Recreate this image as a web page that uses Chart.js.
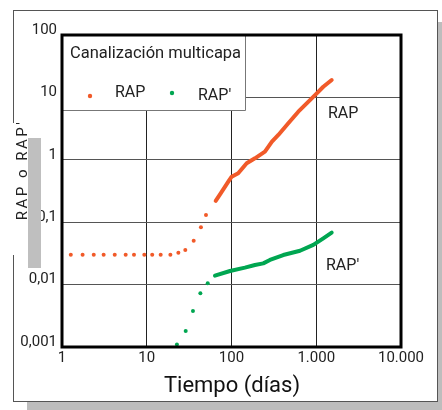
<!DOCTYPE html>
<html>
<head>
<meta charset="utf-8">
<script src="https://cdn.jsdelivr.net/npm/chart.js@4.4.1/dist/chart.umd.min.js"></script>
<style>
	html, body { margin: 0; padding: 0; background: #fff; }
	#wrap { position: relative; width: 442px; height: 410px; }
</style>
</head>
<body>
<div id="wrap"><canvas id="chartRap" width="442" height="410"></canvas></div>
<script>
// ejes
const xTickValues = [1, 10, 100, 1000, 10000];
const xTickLabels = ["1", "10", "100", "1.000", "10.000"];
const yTickValues = [0.001, 0.01, 0.1, 1, 10, 100];
const yTickLabels = ["0,001", "0,01", "0,1", "1", "10", "100"];

// RAP - puntos sueltos (tiempo, valor)
const rapDotsT = [1.27, 1.75, 2.37, 3.1, 4.19, 5.64, 7.07, 9.36, 11.6, 14.6, 19.0, 23.6, 28.5, 35.8, 43.6, 50.0];
const rapDotsV = [0.03, 0.03, 0.03, 0.03, 0.03, 0.03, 0.03, 0.03, 0.03, 0.03, 0.03, 0.0324, 0.0358, 0.0506, 0.0828, 0.13];
// RAP - tramo denso
const rapCurveT = [65.1, 75.2, 91.7, 100.5, 120, 151, 189, 248, 300, 357, 468, 614, 771, 967, 1211, 1521];
const rapCurveV = [0.219, 0.294, 0.446, 0.536, 0.608, 0.879, 1.057, 1.35, 1.95, 2.5, 3.85, 5.9, 8.04, 10.9, 14.8, 19.0];

// RAP' - puntos sueltos
const rapPrimeDotsT = [22.7, 28.8, 35.1, 42.9, 52.4];
const rapPrimeDotsV = [0.0011, 0.0018, 0.00378, 0.00726, 0.0105];
// RAP' - tramo denso
const rapPrimeCurveT = [63.8, 96, 144, 189, 237, 284, 408, 643, 923, 1211, 1521];
const rapPrimeCurveV = [0.0139, 0.0165, 0.0187, 0.0206, 0.0219, 0.0248, 0.0298, 0.0349, 0.0432, 0.0552, 0.0679];

const orange = "#F15A29";
const green = "#00A651";
const fontFam = "Roboto, 'Open Sans', sans-serif";

const toPoints = (ts, vs) => ts.map((t, i) => ({ x: t, y: vs[i] }));

// marco, sombra, leyenda y textos
const decorPlugin = {
	id: "decor",
	beforeDraw(chart) {
		const c = chart.ctx;
		c.save();
		c.fillStyle = "#fff";
		c.fillRect(0, 0, 442, 410);
		// sombra
		c.fillStyle = "#bdbdbd";
		c.fillRect(27, 402, 415, 8);
		c.fillRect(438, 22, 4, 388);
		// marco exterior
		c.strokeStyle = "#555";
		c.lineWidth = 1;
		c.strokeRect(13.5, 10.5, 424, 391);
		c.restore();
	},
	afterDraw(chart) {
		const c = chart.ctx;
		const a = chart.chartArea;
		c.save();

		// recuadro de leyenda
		c.fillStyle = "#fff";
		c.fillRect(a.left, a.top, 183, 75);
		c.strokeStyle = "#777";
		c.lineWidth = 1;
		c.beginPath();
		c.moveTo(245.5, a.top);
		c.lineTo(245.5, 110.5);
		c.lineTo(a.left, 110.5);
		c.stroke();

		c.fillStyle = "#222";
		c.textBaseline = "alphabetic";
		c.textAlign = "left";
		c.font = "16.5px " + fontFam;
		c.fillText("Canalización multicapa", 70, 58);
		c.font = "16px " + fontFam;
		c.fillText("RAP", 115, 97);
		c.fillText("RAP'", 198, 100);
		c.fillStyle = orange;
		c.beginPath();
		c.arc(90, 96, 2.2, 0, Math.PI * 2);
		c.fill();
		c.fillStyle = green;
		c.beginPath();
		c.arc(172, 93, 2.2, 0, Math.PI * 2);
		c.fill();

		// borde grueso del grafico
		c.strokeStyle = "#000";
		c.lineWidth = 3;
		c.strokeRect(a.left, a.top, a.right - a.left, a.bottom - a.top);

		// etiquetas de las curvas
		c.fillStyle = "#222";
		c.font = "16px " + fontFam;
		c.fillText("RAP", 328, 118);
		c.fillText("RAP'", 326, 270);

		// titulo eje y
		c.fillStyle = "#fff";
		c.fillRect(10, 123, 17, 132);
		c.fillStyle = "#bfbfbf";
		c.fillRect(28, 138, 13, 130);
		c.save();
		c.translate(27, 170);
		c.rotate(-Math.PI / 2);
		c.fillStyle = "#222";
		c.textAlign = "center";
		c.font = "15px " + fontFam;
		c.letterSpacing = "2.5px";
		c.fillText("RAP o RAP'", 0, 0);
		c.restore();

		// titulo eje x
		c.fillStyle = "#111";
		c.textAlign = "center";
		c.font = "22px " + fontFam;
		c.fillText("Tiempo (días)", 232, 392);

		c.restore();
	},
};

const ctx = document.getElementById("chartRap");

const config = {
	type: "scatter",
	data: {
		datasets: [
			{
				label: "RAP",
				data: toPoints(rapDotsT, rapDotsV),
				showLine: false,
				pointRadius: 2,
				pointBackgroundColor: orange,
				pointBorderWidth: 0,
			},
			{
				label: "RAP curva",
				data: toPoints(rapCurveT, rapCurveV),
				showLine: true,
				borderColor: orange,
				borderWidth: 4,
				borderCapStyle: "round",
				borderJoinStyle: "round",
				pointRadius: 0,
			},
			{
				label: "RAP'",
				data: toPoints(rapPrimeDotsT, rapPrimeDotsV),
				showLine: false,
				pointRadius: 2,
				pointBackgroundColor: green,
				pointBorderWidth: 0,
			},
			{
				label: "RAP' curva",
				data: toPoints(rapPrimeCurveT, rapPrimeCurveV),
				showLine: true,
				borderColor: green,
				borderWidth: 4,
				borderCapStyle: "round",
				borderJoinStyle: "round",
				pointRadius: 0,
			},
		],
	},
	options: {
		responsive: false,
		animation: false,
		devicePixelRatio: 1,
		layout: {
			padding: { top: 35, right: 41, left: 0, bottom: 0 },
		},
		plugins: {
			legend: { display: false },
			tooltip: { enabled: false },
		},
		scales: {
			x: {
				type: "logarithmic",
				min: 1,
				max: 10000,
				afterBuildTicks: (s) => {
					s.ticks = xTickValues.map((v) => ({ value: v }));
				},
				afterFit: (s) => {
					s.height = 63;
				},
				grid: { color: "#222", lineWidth: 1, drawTicks: false },
				border: { display: false },
				ticks: {
					callback: (v, i) => xTickLabels[i],
					font: { family: fontFam, size: 15 },
					color: "#222",
					padding: 2,
					autoSkip: false,
					maxRotation: 0,
					minRotation: 0,
				},
			},
			y: {
				type: "logarithmic",
				min: 0.001,
				max: 100,
				afterBuildTicks: (s) => {
					s.ticks = yTickValues.map((v) => ({ value: v }));
				},
				afterFit: (s) => {
					s.width = 62;
				},
				grid: { color: "#555", lineWidth: 1, drawTicks: false },
				border: { display: false },
				ticks: {
					callback: (v, i) => yTickLabels[i],
					font: { family: fontFam, size: 15 },
					color: "#222",
					padding: 5,
					labelOffset: -5,
					autoSkip: false,
				},
			},
		},
	},
	plugins: [decorPlugin],
};

const chartRap = new Chart(ctx, config);
</script>
</body>
</html>
